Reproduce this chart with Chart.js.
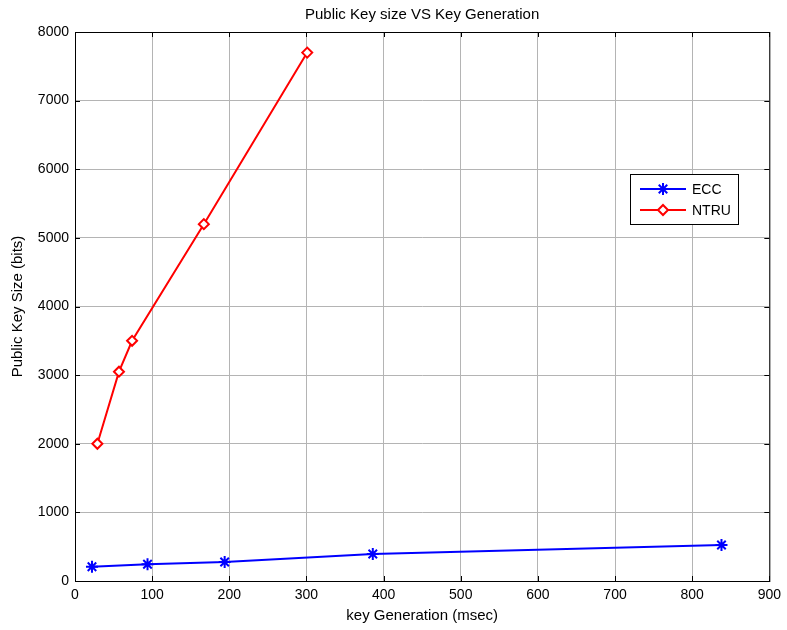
<!DOCTYPE html>
<html>
<head>
<meta charset="UTF-8">
<script src="https://cdn.jsdelivr.net/npm/chart.js"></script>
<style>
  body { margin: 0; background: #fff; }
  #wrap { width: 787px; height: 630px; }
</style>
</head>
<body>
<div id="wrap"><canvas id="c" width="787" height="630"></canvas></div>
<script>
// key generation time (msec) vs public key size (bits)
const eccTime = [22, 94, 194, 386, 838];
const eccSize = [208, 243, 277, 394, 525];
const ntruTime = [29, 57, 74, 167, 301];
const ntruSize = [2000, 3050, 3500, 5200, 7700];
const xTicks = [0, 100, 200, 300, 400, 500, 600, 700, 800, 900];
const yTicks = [0, 1000, 2000, 3000, 4000, 5000, 6000, 7000, 8000];

const family = 'Arial, "Liberation Sans", sans-serif';
const tickFont = { family, size: 14 };
const titleFont = { family, size: 15 };

// matlab-like box, inward ticks, title and legend
const boxPlugin = {
  id: 'box',
  afterDraw(chart) {
    const { ctx, chartArea: a, scales } = chart;
    ctx.save();
    ctx.strokeStyle = '#000';
    ctx.lineWidth = 1;
    ctx.strokeRect(a.left + 0.5, a.top + 0.5, a.right - a.left, a.bottom - a.top);
    ctx.beginPath();
    xTicks.forEach(v => {
      const x = Math.round(scales.x.getPixelForValue(v)) + 0.5;
      ctx.moveTo(x, a.bottom); ctx.lineTo(x, a.bottom - 5);
      ctx.moveTo(x, a.top); ctx.lineTo(x, a.top + 5);
    });
    yTicks.forEach(v => {
      const y = Math.round(scales.y.getPixelForValue(v)) + 0.5;
      ctx.moveTo(a.left, y); ctx.lineTo(a.left + 5, y);
      ctx.moveTo(a.right, y); ctx.lineTo(a.right - 5, y);
    });
    ctx.stroke();

    // title
    ctx.fillStyle = '#000';
    ctx.font = '15px ' + family;
    ctx.textAlign = 'center';
    ctx.textBaseline = 'middle';
    ctx.fillText('Public Key size VS Key Generation', (a.left + a.right) / 2, 15);

    // legend
    const lx = 630, ly = 174, lw = 108, lh = 50;
    ctx.fillStyle = '#fff';
    ctx.fillRect(lx, ly, lw, lh);
    ctx.strokeStyle = '#000';
    ctx.strokeRect(lx + 0.5, ly + 0.5, lw, lh);
    ctx.textAlign = 'left';
    ctx.font = '14px ' + family;
    chart.data.datasets.forEach((ds, i) => {
      const y = ly + 15 + i * 21;
      ctx.strokeStyle = ds.borderColor;
      ctx.lineWidth = 2;
      ctx.beginPath();
      ctx.moveTo(lx + 10, y); ctx.lineTo(lx + 56, y);
      ctx.stroke();
      ctx.fillStyle = ds.backgroundColor;
      Chart.helpers.drawPoint(ctx, {
        pointStyle: ds.pointStyle, radius: ds.pointRadius, borderWidth: 2
      }, lx + 33, y);
      ctx.fillStyle = '#000';
      ctx.fillText(ds.label, lx + 62, y + 1);
    });
    ctx.restore();
  }
};

new Chart(document.getElementById('c'), {
  type: 'line',
  data: {
    datasets: [
      {
        label: 'ECC',
        data: eccTime.map((t, i) => ({ x: t, y: eccSize[i] })),
        borderColor: '#0000ff',
        backgroundColor: '#0000ff',
        pointStyle: 'star',
        pointRadius: 6,
        pointBorderWidth: 2,
        borderWidth: 2,
        tension: 0
      },
      {
        label: 'NTRU',
        data: ntruTime.map((t, i) => ({ x: t, y: ntruSize[i] })),
        borderColor: '#ff0000',
        backgroundColor: '#ffffff',
        pointStyle: 'rectRot',
        pointRadius: 5,
        pointBorderWidth: 2,
        borderWidth: 2,
        tension: 0
      }
    ]
  },
  options: {
    responsive: false,
    animation: false,
    layout: { padding: { top: 32, right: 17, left: 0, bottom: 0 } },
    plugins: { legend: { display: false }, tooltip: { enabled: false } },
    scales: {
      x: {
        type: 'linear',
        min: 0, max: 900,
        afterBuildTicks: s => { s.ticks = xTicks.map(v => ({ value: v })); },
        afterFit: s => { s.height = 49; },
        ticks: { color: '#000', font: tickFont, padding: 6, maxRotation: 0, callback: v => String(v) },
        grid: { color: '#b4b4b4', drawTicks: false },
        border: { color: '#000' },
        title: { display: true, text: 'key Generation (msec)', color: '#000', font: titleFont, padding: { top: 0, bottom: 5 } }
      },
      y: {
        type: 'linear',
        min: 0, max: 8000,
        afterBuildTicks: s => { s.ticks = yTicks.map(v => ({ value: v })); },
        afterFit: s => { s.width = 75; },
        ticks: { color: '#000', font: tickFont, padding: 6, callback: v => String(v) },
        grid: { color: '#b4b4b4', drawTicks: false },
        border: { color: '#000' },
        title: { display: true, text: 'Public Key Size (bits)', color: '#000', font: titleFont, padding: { top: 9, bottom: 0 } }
      }
    }
  },
  plugins: [boxPlugin]
});
</script>
</body>
</html>
